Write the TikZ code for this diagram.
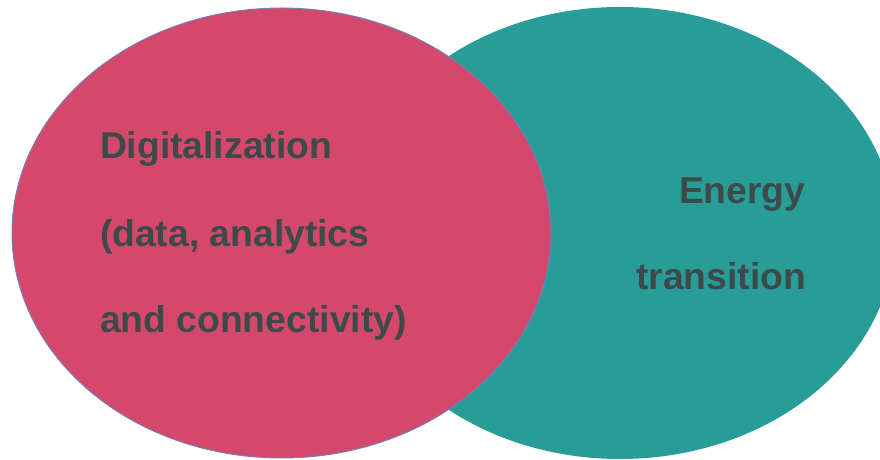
\documentclass[tikz,border=0pt]{standalone}
\usepackage{fontspec}
\setmainfont{Liberation Sans}
\definecolor{redfill}{RGB}{212,73,107}
\definecolor{tealfill}{RGB}{40,157,151}
\definecolor{rededge}{RGB}{112,128,192}
\definecolor{txt}{RGB}{62,74,74}
\tikzset{
  lbl/.style={inner sep=0pt, outer sep=0pt, text=txt, font=\fontsize{37.3}{44}\selectfont\bfseries},
}
\begin{document}
\begin{tikzpicture}[x=1pt,y=1pt]
\clip (0,0) rectangle (880,460);
\useasboundingbox (0,0) rectangle (880,460);
\fill[white] (0,0) rectangle (880,460);
\fill[tealfill] (620,227) ellipse [x radius=275, y radius=226];
\filldraw[fill=redfill, draw=rededge, line width=0.9pt] (281.5,227) ellipse [x radius=269.5, y radius=225];
\node[lbl, anchor=base west] (d1) at (100,301) {Digitalization};
\node[lbl, anchor=base west] (d2) at (100,213.5) {(data, analytics};
\node[lbl, anchor=base west] (d3) at (100,127) {and connectivity)};
\node[lbl, anchor=base east] (e1) at (805.5,256.7) {Energy};
\node[lbl, anchor=base east] (e2) at (806,170.7) {transition};
\end{tikzpicture}
\end{document}
